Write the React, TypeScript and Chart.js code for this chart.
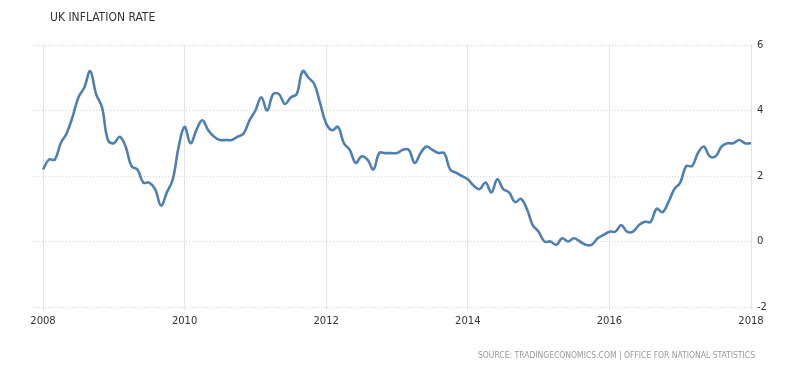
import React, { useEffect, useRef } from "react";
import { Chart, registerables } from "chart.js";

Chart.register(...registerables);

// UK CPI inflation rate, monthly, Jan of each year .. Dec
const years = [2008, 2009, 2010, 2011, 2012, 2013, 2014, 2015, 2016, 2017, 2018];
const values2008 = [2.2, 2.5, 2.5, 3.0, 3.3, 3.8, 4.4, 4.7, 5.2, 4.5, 4.1, 3.1];
const values2009 = [3.0, 3.2, 2.9, 2.3, 2.2, 1.8, 1.8, 1.6, 1.1, 1.5, 1.9, 2.9];
const values2010 = [3.5, 3.0, 3.4, 3.7, 3.4, 3.2, 3.1, 3.1, 3.1, 3.2, 3.3, 3.7];
const values2011 = [4.0, 4.4, 4.0, 4.5, 4.5, 4.2, 4.4, 4.5, 5.2, 5.0, 4.8, 4.2];
const values2012 = [3.6, 3.4, 3.5, 3.0, 2.8, 2.4, 2.6, 2.5, 2.2, 2.7, 2.7, 2.7];
const values2013 = [2.7, 2.8, 2.8, 2.4, 2.7, 2.9, 2.8, 2.7, 2.7, 2.2, 2.1, 2.0];
const values2014 = [1.9, 1.7, 1.6, 1.8, 1.5, 1.9, 1.6, 1.5, 1.2, 1.3, 1.0, 0.5];
const values2015 = [0.3, 0.0, 0.0, -0.1, 0.1, 0.0, 0.1, 0.0, -0.1, -0.1, 0.1, 0.2];
const values2016 = [0.3, 0.3, 0.5, 0.3, 0.3, 0.5, 0.6, 0.6, 1.0, 0.9, 1.2, 1.6];
const values2017 = [1.8, 2.3, 2.3, 2.7, 2.9, 2.6, 2.6, 2.9, 3.0, 3.0, 3.1, 3.0];
const values2018 = [3.0];
const yearValues = [
  values2008, values2009, values2010, values2011, values2012, values2013,
  values2014, values2015, values2016, values2017, values2018,
];

const xTickLabels = [2008, 2010, 2012, 2014, 2016, 2018];
const yTickLabels = [6, 4, 2, 0, -2];

export default function App() {
  const ref = useRef<HTMLCanvasElement | null>(null);

  useEffect(() => {
    document.body.style.margin = "0";
    const points: { x: number; y: number }[] = [];
    yearValues.forEach((arr, yi) => {
      arr.forEach((v, m) => points.push({ x: years[yi] + m / 12, y: v }));
    });
    const chart = new Chart(ref.current as HTMLCanvasElement, {
      type: "line",
      data: {
        datasets: [
          {
            data: points,
            borderColor: "#4f80b0",
            borderWidth: 2.6,
            pointRadius: 0,
            tension: 0.4,
            fill: false,
          },
        ],
      },
      options: {
        animation: false,
        responsive: false,
        maintainAspectRatio: false,
        layout: { padding: { left: 33, top: 45, right: 0, bottom: 0 } },
        plugins: { legend: { display: false }, tooltip: { enabled: false } },
        scales: {
          x: {
            type: "linear",
            min: 2008 - 10 / 70.8,
            max: 2018,
            afterBuildTicks: (s: any) => {
              s.ticks = xTickLabels.map((v) => ({ value: v }));
            },
            afterFit: (s: any) => {
              s.height = 64;
            },
            grid: { color: "#e4e4e4", lineWidth: 1, tickLength: 3 },
            border: { display: false },
            ticks: {
              color: "#333",
              font: { family: "DejaVu Sans", size: 10 },
              padding: 5,
              maxRotation: 0,
              callback: (v: any) => String(v),
            },
          },
          y: {
            position: "right",
            min: -2,
            max: 6,
            afterBuildTicks: (s: any) => {
              s.ticks = yTickLabels.map((v) => ({ value: v }));
            },
            afterFit: (s: any) => {
              s.width = 51;
            },
            grid: { color: "#d6d6d6", lineWidth: 1, drawTicks: false },
            border: { display: false, dash: [1, 2] },
            ticks: {
              color: "#333",
              font: { family: "DejaVu Sans", size: 10 },
              padding: 6,
            },
          },
        },
      },
    });
    return () => chart.destroy();
  }, []);

  return (
    <div style={{ position: "relative", width: 802, height: 371, background: "#fff" }}>
      <div
        style={{
          position: "absolute",
          left: 50,
          top: 10,
          fontFamily: "'DejaVu Sans Condensed', 'DejaVu Sans'",
          fontSize: 12,
          color: "#333",
          whiteSpace: "nowrap",
        }}
      >
        UK INFLATION RATE
      </div>
      <canvas ref={ref} width={802} height={371} style={{ display: "block" }} />
      <div
        style={{
          position: "absolute",
          right: 47,
          top: 350,
          fontFamily: "'DejaVu Sans Condensed', 'DejaVu Sans'",
          fontSize: 8.5,
          color: "#999",
          whiteSpace: "nowrap",
        }}
      >
        SOURCE: TRADINGECONOMICS.COM | OFFICE FOR NATIONAL STATISTICS
      </div>
    </div>
  );
}
